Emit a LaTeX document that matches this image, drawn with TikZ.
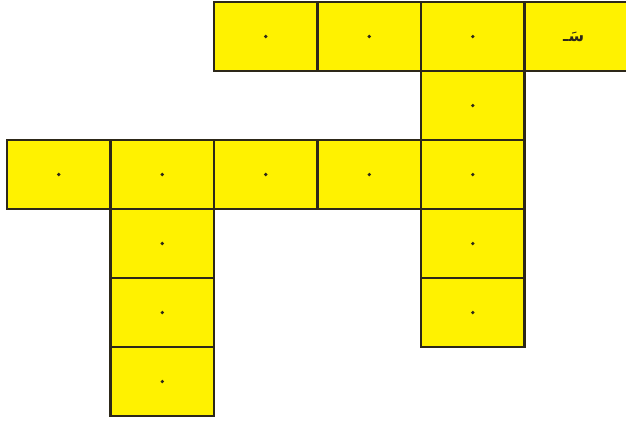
\documentclass[tikz,border=0pt]{standalone}
\usepackage{fontspec}
\usetikzlibrary{positioning}
\newfontfamily\arabicfont[Script=Arabic]{DejaVu Sans}
\TeXXeTstate=1
\definecolor{cellfill}{RGB}{255,242,0}
\definecolor{cellline}{RGB}{45,40,25}

\begin{document}
\begin{tikzpicture}[x=0.02cm, y=-0.02cm,
    cell/.style={draw=cellline, fill=cellfill, line width=1.5pt,
      minimum width=2.07cm, minimum height=1.38cm, inner sep=0pt}]
  \useasboundingbox (0,0) rectangle (626,420);

  % row/column of every square of the grid
  \foreach \r/\c in {0/2,0/3,0/4,0/5,1/4,2/0,2/1,2/2,2/3,2/4,3/1,3/4,4/1,4/4,5/1}
    \node[cell] (c\r\c) at ({58.75+103.5*\c},{36.5+69*\r}) {};

  % small marks in the squares
  \foreach \n in {02,03,04,14,20,21,22,23,24,31,34,41,44,51}
    \fill[cellline] (c\n) circle (1pt);

  \node[font=\arabicfont\bfseries\small, text=cellline, below left=-6pt and -8pt of c05.center] (word) {\beginR سَـ\endR};
\end{tikzpicture}
\end{document}
